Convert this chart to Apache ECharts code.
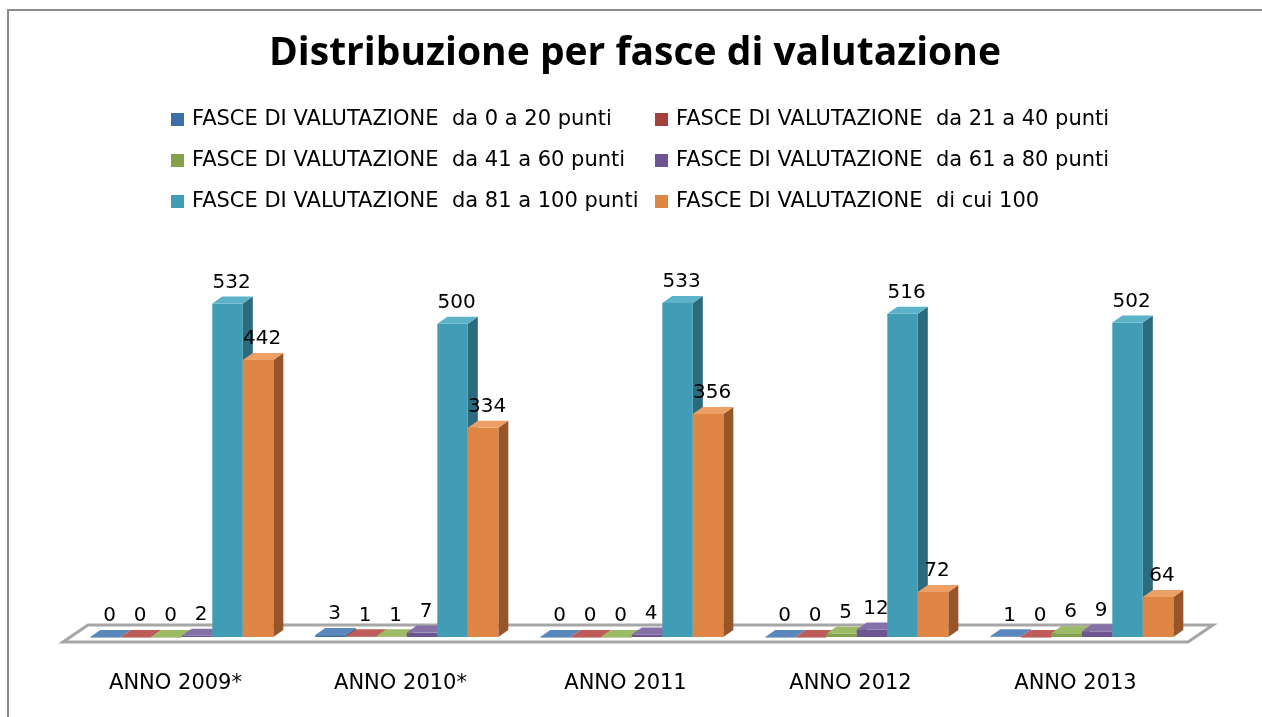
<!DOCTYPE html>
<html>
<head>
<meta charset="utf-8">
<script src="https://cdn.jsdelivr.net/npm/echarts@6/dist/echarts.min.js"></script>
<style>
  html, body { margin: 0; padding: 0; background: #fff; }
  #chart { width: 1262px; height: 717px; }
</style>
</head>
<body>
<div id="chart"></div>
<script>
// dati
const categories = ['ANNO 2009*', 'ANNO 2010*', 'ANNO 2011', 'ANNO 2012', 'ANNO 2013']
const seriesNames = [
  'FASCE DI VALUTAZIONE  da 0 a 20 punti',
  'FASCE DI VALUTAZIONE  da 21 a 40 punti',
  'FASCE DI VALUTAZIONE  da 41 a 60 punti',
  'FASCE DI VALUTAZIONE  da 61 a 80 punti',
  'FASCE DI VALUTAZIONE  da 81 a 100 punti',
  'FASCE DI VALUTAZIONE  di cui 100'
]
const da0a20 = [0, 3, 0, 0, 1]
const da21a40 = [0, 1, 0, 0, 0]
const da41a60 = [0, 1, 0, 5, 6]
const da61a80 = [2, 7, 4, 12, 9]
const da81a100 = [532, 500, 533, 516, 502]
const diCui100 = [442, 334, 356, 72, 64]
const values = [da0a20, da21a40, da41a60, da61a80, da81a100, diCui100]

// colori fronte / lato / sopra
const colors = [
  ['#3d6ea8', '#2b5380', '#5a88bd'],
  ['#a6403d', '#7c2f2d', '#bd5c58'],
  ['#84a24b', '#627a36', '#9dba66'],
  ['#6c5590', '#513f6d', '#8670a8'],
  ['#409db5', '#2c6b7c', '#5cb3c9'],
  ['#df8644', '#98552a', '#eda065']
]

const DX = 10
const DY = -7
const GRID_L = 63
const GRID_R = 74
const GRID_B = 80

function makeRender(s) {
  return function(params, api) {
    const cat = api.value(0)
    const val = api.value(1)
    const base = api.coord([cat, 0])
    const top = api.coord([cat, val])
    const band = api.size([1, 0])[0]
    const barW = band * 0.1356
    const groupW = barW * 6
    const x0 = base[0] + band * 0.028 - groupW / 2 + s * barW
    const x1 = x0 + barW
    const yb = base[1]
    const yt = top[1]
    const c = colors[s]
    return {
      type: 'group',
      children: [
        {
          type: 'polygon',
          shape: { points: [[x1, yb], [x1, yt], [x1 + DX, yt + DY], [x1 + DX, yb + DY]] },
          style: { fill: c[1] }
        },
        {
          type: 'rect',
          shape: { x: x0, y: yt, width: barW, height: Math.max(yb - yt, 0.5) },
          style: { fill: c[0] }
        },
        {
          type: 'polygon',
          shape: { points: [[x0, yt], [x1, yt], [x1 + DX, yt + DY], [x0 + DX, yt + DY]] },
          style: { fill: c[2] }
        },
        {
          type: 'text',
          x: x0 + barW / 2 + DX / 2 - 1,
          y: yt + DY - 4,
          style: {
            text: String(val),
            fill: '#000',
            font: '20px "DejaVu Sans"',
            align: 'center',
            verticalAlign: 'bottom'
          }
        }
      ]
    }
  }
}

const chart = echarts.init(document.getElementById('chart'))

const series = values.map((arr, s) => ({
  name: seriesNames[s],
  type: 'custom',
  renderItem: makeRender(s),
  itemStyle: { color: colors[s][0] },
  encode: { x: 0, y: 1 },
  data: arr.map((v, i) => [i, v])
}))

const legendCommon = {
  orient: 'vertical',
  top: 104,
  itemWidth: 13,
  itemHeight: 13,
  itemGap: 20,
  icon: 'rect',
  textStyle: { fontFamily: 'DejaVu Sans', fontSize: 21, color: '#000', padding: [0, 0, 0, 3] }
}

const option = {
  animation: false,
  backgroundColor: '#fff',
  title: {
    text: 'Distribuzione per fasce di valutazione',
    left: 264,
    top: 29,
    textStyle: { fontFamily: 'Open Sans', fontWeight: 'bold', fontSize: 39, color: '#000' }
  },
  legend: [
    Object.assign({ left: 166, data: [seriesNames[0], seriesNames[2], seriesNames[4]] }, legendCommon),
    Object.assign({ left: 650, data: [seriesNames[1], seriesNames[3], seriesNames[5]] }, legendCommon)
  ],
  grid: { left: GRID_L, right: GRID_R, top: 261, bottom: GRID_B },
  xAxis: {
    type: 'category',
    data: categories,
    axisLine: { show: false },
    axisTick: { show: false },
    axisLabel: { margin: 36, fontFamily: 'DejaVu Sans', fontSize: 21, color: '#000' }
  },
  yAxis: {
    type: 'value',
    min: 0,
    max: 600,
    show: false
  },
  series: series
}

chart.setOption(option)

// cornice e pavimento 3D
const W = 1262
const H = 717
const yFront = H - GRID_B + 5
const yBack = yFront - 17
chart.setOption({
  graphic: [
    {
      type: 'rect',
      z: -10,
      shape: { x: 8, y: 10, width: 1400, height: 900 },
      style: { fill: 'none', stroke: '#8c8c8c', lineWidth: 2 }
    },
    {
      type: 'polygon',
      z: -5,
      shape: { points: [[GRID_L, yFront], [W - GRID_R, yFront], [W - GRID_R + 25, yBack], [GRID_L + 25, yBack]] },
      style: { fill: '#fff', stroke: '#a6a6a6', lineWidth: 3 }
    }
  ]
})
</script>
</body>
</html>
